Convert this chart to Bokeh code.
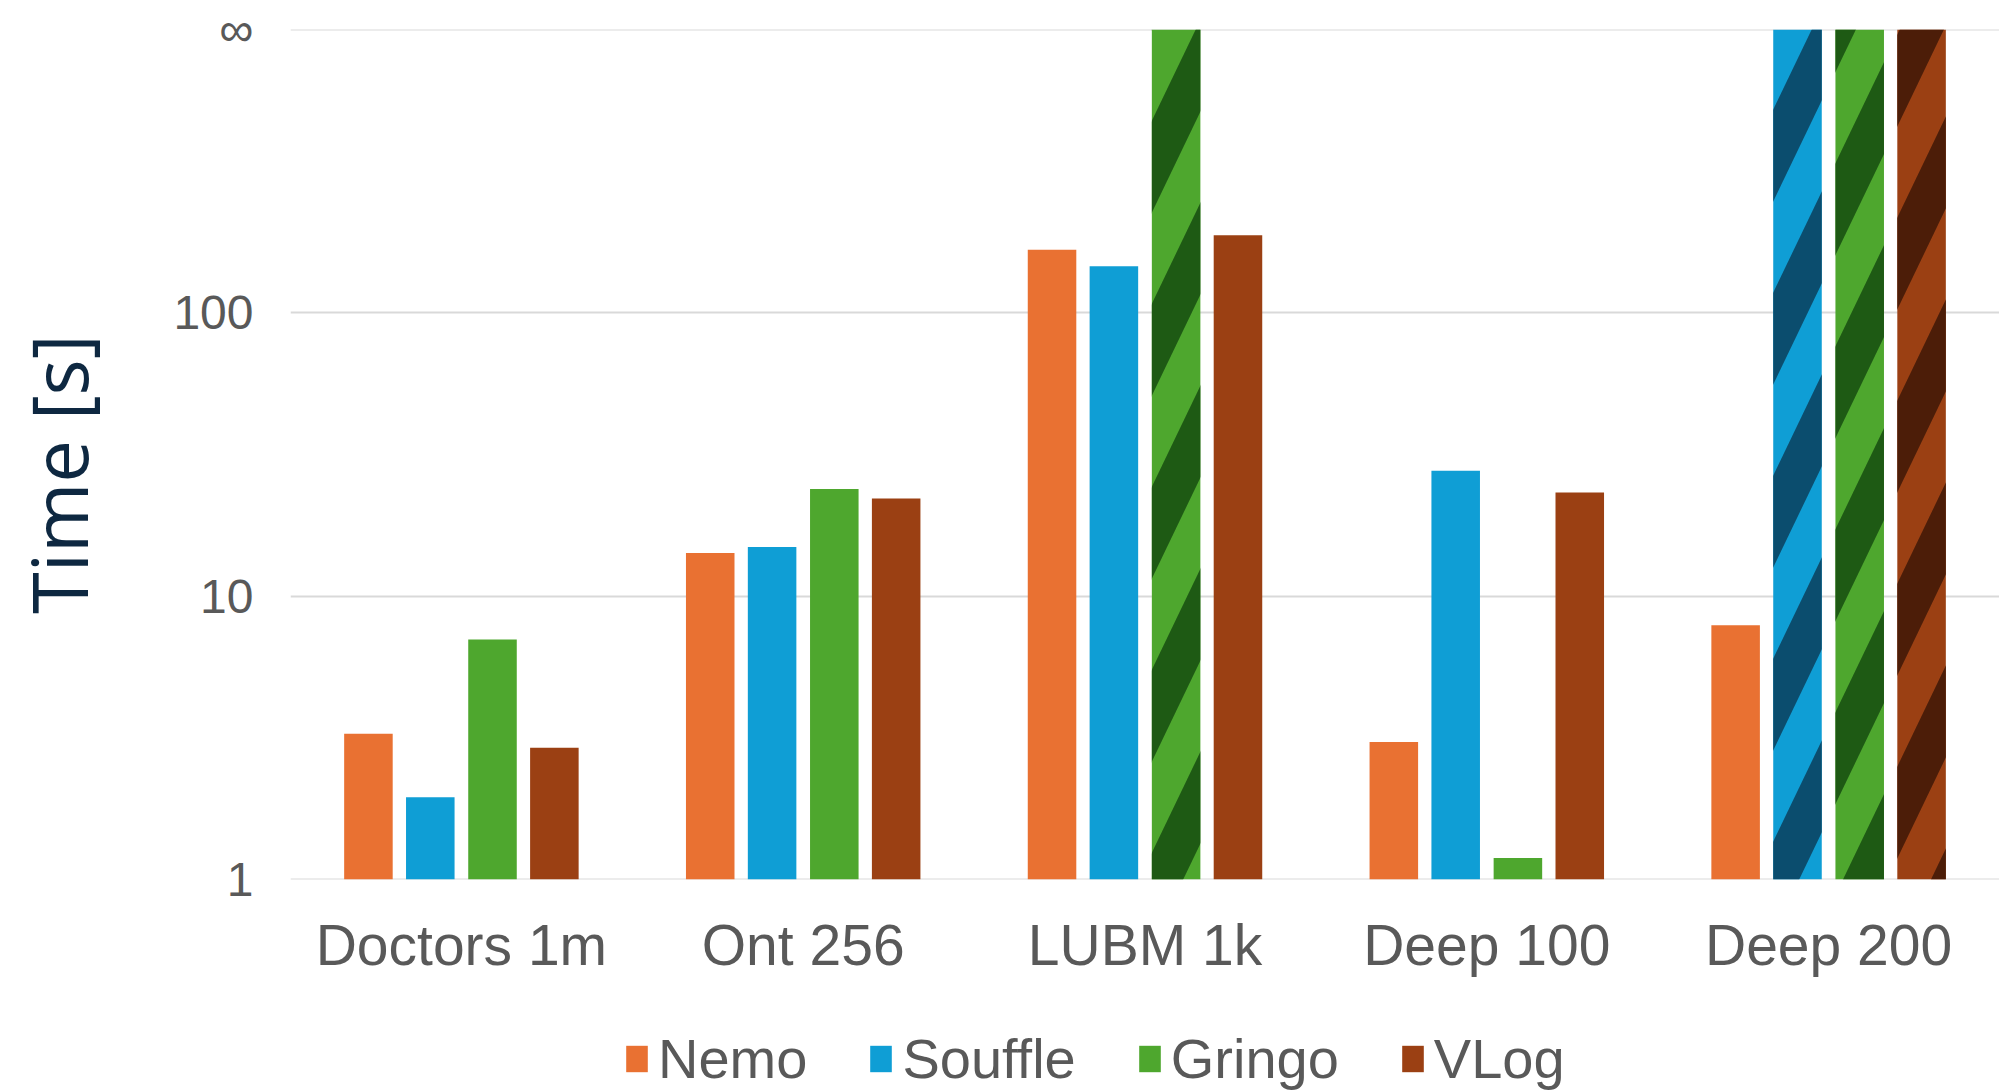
import base64
from bokeh.plotting import figure
from bokeh.layouts import column
from bokeh.models import (ColumnDataSource, FactorRange, Range1d, FixedTicker,
                          Legend, LegendItem, ImageURLTexture)
from bokeh.core.properties import value
from bokeh.transform import dodge
from bokeh.embed import file_html
from bokeh.resources import INLINE

# ---------------- data ----------------
CATEGORIES = ["Doctors 1m", "Ont 256", "LUBM 1k", "Deep 100", "Deep 200"]
SERIES = ["Nemo", "Souffle", "Gringo", "VLog"]
# None = did not finish (drawn up to the "∞" line, hatched)
NEMO = [3.27, 14.2, 167, 3.06, 7.9]
SOUFFLE = [1.95, 14.9, 146, 27.7, None]
GRINGO = [7.03, 23.9, None, 1.19, None]
VLOG = [2.92, 22.1, 188, 23.2, None]
SERIES_VALUES = [NEMO, SOUFFLE, GRINGO, VLOG]
Y_TICKS = [1, 10, 100, 1000]
Y_TICK_LABELS = ["1", "10", "100", "∞"]
INF_VALUE = 1000          # position of the "∞" line

# ---------------- style ----------------
COLORS = ["#E97132", "#0F9ED5", "#4EA72E", "#9B4013"]
DARK = ["#7A3A18", "#0B4D6E", "#1E5A14", "#4C1D08"]
OFFSETS = [-0.272, -0.091, 0.091, 0.272]
BAR_W = 0.142
GRAY = "#595959"
FONT = "Liberation Sans"


def stripe_texture(color):
    w, h = 88, 183
    half = 46
    slope = h / w
    polys = []
    for k in (-1, 0, 1):
        x0, x1 = -12, w + 12
        y0 = h * (1 + k) - slope * x0
        y1 = h * (1 + k) - slope * x1
        pts = f"{x0},{y0 - half:.2f} {x1},{y1 - half:.2f} {x1},{y1 + half:.2f} {x0},{y0 + half:.2f}"
        polys.append(f"<polygon points='{pts}' fill='{color}'/>")
    svg = (f"<svg xmlns='http://www.w3.org/2000/svg' width='{w}' height='{h}'>"
           + "".join(polys) + "</svg>")
    url = "data:image/svg+xml;base64," + base64.b64encode(svg.encode()).decode()
    return ImageURLTexture(url=url, repetition="repeat")


p = figure(width=1999, height=1000,
           x_range=FactorRange(factors=CATEGORIES, range_padding=0),
           y_range=Range1d(1, INF_VALUE), y_axis_type="log",
           output_backend="svg", toolbar_location=None,
           min_border_left=290, min_border_right=0,
           min_border_top=29, min_border_bottom=121)
p.outline_line_color = None
p.background_fill_color = "white"
p.border_fill_color = "white"

# horizontal grid lines (1, 10, 100 and the "∞" line)
p.hspan(y=Y_TICKS, line_color="#D9D9D9", line_width=2)

# legend strip below the chart (keys only; their renderers are not drawn)
leg_fig = figure(width=1999, height=91, x_range=p.x_range, y_range=Range1d(-2, -1),
                 x_axis_location=None, y_axis_location=None,
                 output_backend="svg", toolbar_location=None,
                 min_border_left=0, min_border_right=0, min_border_top=0, min_border_bottom=0)
leg_fig.outline_line_color = None
leg_fig.grid.visible = False

items = []
for name, vals, col, dark, off in zip(SERIES, SERIES_VALUES, COLORS, DARK, OFFSETS):
    fin = ColumnDataSource(dict(cat=[c for c, v in zip(CATEGORIES, vals) if v is not None],
                                top=[v for v in vals if v is not None]))
    inf = ColumnDataSource(dict(cat=[c for c, v in zip(CATEGORIES, vals) if v is None],
                                top=[INF_VALUE for v in vals if v is None]))
    p.vbar(x=dodge("cat", off, range=p.x_range), top="top", bottom=1, width=BAR_W,
           source=fin, fill_color=col, line_color=None)
    if len(inf.data["cat"]):
        p.vbar(x=dodge("cat", off, range=p.x_range), top="top", bottom=1, width=BAR_W,
               source=inf, fill_color=col, line_color=None,
               hatch_pattern=value("stripe"),
               hatch_extra={"stripe": stripe_texture(dark)})
    key = leg_fig.vbar(x=dodge("cat", off, range=leg_fig.x_range), top="top", bottom=1,
                       width=BAR_W, source=fin, fill_color=col, line_color=None)
    key.visible = False
    items.append(LegendItem(label=name, renderers=[key]))

# y axis
ya = p.yaxis[0]
ya.ticker = FixedTicker(ticks=Y_TICKS, minor_ticks=[])
ya.major_label_overrides = {float(t): l for t, l in zip(Y_TICKS, Y_TICK_LABELS)}
ya.axis_line_color = None
ya.major_tick_line_color = None
ya.minor_tick_line_color = None
ya.major_label_standoff = 31
ya.major_label_text_font = FONT
ya.major_label_text_font_size = "48px"
ya.major_label_text_color = GRAY
ya.axis_label = "Time [s]\u00a0\u00a0"
ya.axis_label_text_font = "Open Sans"
ya.axis_label_text_font_size = "76px"
ya.axis_label_text_font_style = "normal"
ya.axis_label_text_color = "#0E2841"
ya.axis_label_standoff = 60

# x axis
xa = p.xaxis[0]
xa.axis_line_color = None
xa.major_tick_line_color = None
xa.minor_tick_line_color = None
xa.major_label_standoff = 27
xa.major_label_text_font = FONT
xa.major_label_text_font_size = "57px"
xa.major_label_text_color = GRAY

p.xgrid.grid_line_color = None
p.ygrid.grid_line_color = None

legend = Legend(items=items, orientation="horizontal", location=(333, 0),
                glyph_width=27, glyph_height=33, label_standoff=8, spacing=60,
                label_text_font=FONT, label_text_font_size="56px",
                label_text_color=GRAY, border_line_color=None,
                background_fill_alpha=0, margin=0, padding=0,
                inactive_fill_alpha=0)
leg_fig.add_layout(legend, "center")

layout = column(p, leg_fig, spacing=0)
open("out.html", "w").write(file_html(layout, INLINE))
